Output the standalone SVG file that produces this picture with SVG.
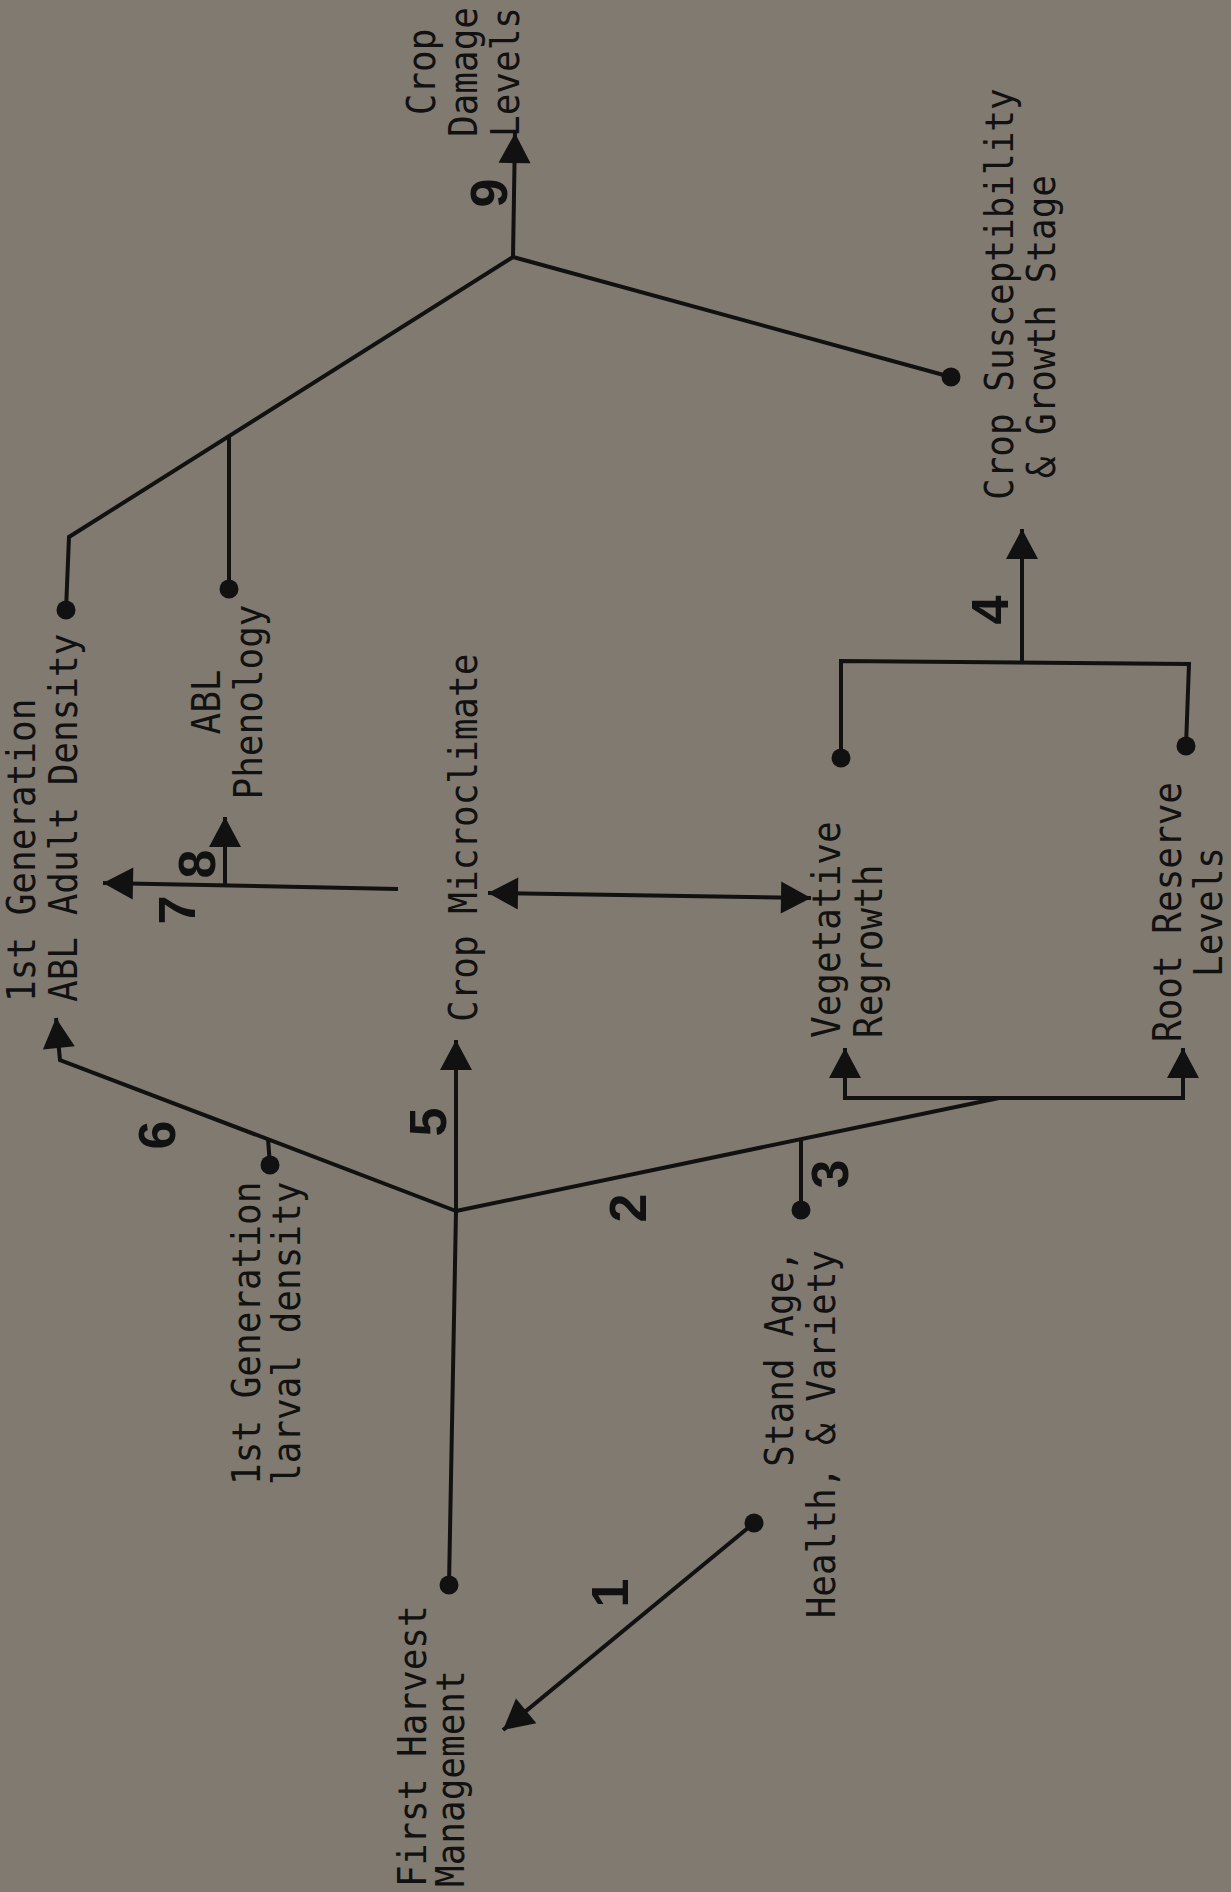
<svg xmlns="http://www.w3.org/2000/svg" width="1231" height="1892" viewBox="0 0 1231 1892">
<style>
.lbl{font-family:"DejaVu Sans Mono","Liberation Mono",monospace;font-size:36px;fill:#111}
.num{font-family:"Liberation Sans",Arial,sans-serif;font-weight:bold;font-size:52px;fill:#111;text-anchor:middle;dominant-baseline:central}
.ln{stroke:#111;stroke-width:4;fill:none;stroke-linejoin:miter}
.dot{fill:#111}
</style>
<defs>
<marker id="ah" markerUnits="userSpaceOnUse" markerWidth="34" markerHeight="34" viewBox="0 0 34 34" refX="31" refY="17" orient="auto-start-reverse">
<path d="M1,1 L31,17 L1,33 Z" fill="#111"/>
</marker>
</defs>
<rect width="1231" height="1892" fill="#807a70"/>

<g id="connectors">
<!-- 1 -->
<line class="ln" x1="754" y1="1523" x2="503" y2="1730" marker-end="url(#ah)"/>
<circle class="dot" cx="754" cy="1523" r="9.5"/>
<!-- First harvest to crop microclimate (5) -->
<polyline class="ln" points="449,1585 456,1211 456,1040" marker-end="url(#ah)"/>
<circle class="dot" cx="449" cy="1585" r="9.5"/>
<!-- 6 -->
<polyline class="ln" points="456,1211 60,1060 56,1018" marker-end="url(#ah)"/>
<line class="ln" x1="268" y1="1139" x2="270" y2="1165"/>
<circle class="dot" cx="270" cy="1165" r="9.5"/>
<!-- 2 -->
<line class="ln" x1="456" y1="1211" x2="999" y2="1098"/>
<line class="ln" x1="801" y1="1139" x2="801" y2="1210"/>
<circle class="dot" cx="801" cy="1210" r="9.5"/>
<polyline class="ln" points="999,1098 845,1098 845,1048" marker-end="url(#ah)"/>
<polyline class="ln" points="999,1098 1183,1098 1183,1048" marker-end="url(#ah)"/>
<!-- 4 -->
<polyline class="ln" points="841,758 841,661 1189,664 1186,746"/>
<circle class="dot" cx="841" cy="758" r="9.5"/>
<circle class="dot" cx="1186" cy="746" r="9.5"/>
<line class="ln" x1="1022" y1="662" x2="1022" y2="529" marker-end="url(#ah)"/>
<!-- double arrow -->
<line class="ln" x1="488" y1="893" x2="811" y2="898" marker-start="url(#ah)" marker-end="url(#ah)"/>
<!-- 7 and 8 -->
<line class="ln" x1="398" y1="889" x2="103" y2="883" marker-end="url(#ah)"/>
<line class="ln" x1="225" y1="886" x2="225" y2="817" marker-end="url(#ah)"/>
<!-- 9 -->
<polyline class="ln" points="66,610 69,537 513,257"/>
<circle class="dot" cx="66" cy="610" r="9.5"/>
<line class="ln" x1="229" y1="435" x2="229" y2="589"/>
<circle class="dot" cx="229" cy="589" r="9.5"/>
<line class="ln" x1="513" y1="257" x2="951" y2="377"/>
<circle class="dot" cx="951" cy="377" r="9.5"/>
<line class="ln" x1="513" y1="257" x2="515" y2="133" marker-end="url(#ah)"/>
</g>

<g id="node-crop-damage"><text class="lbl" text-anchor="middle" transform="translate(435,72) rotate(-90) scale(1,1.08)"><tspan x="0" y="0">Crop</tspan><tspan x="0" dy="39">Damage</tspan><tspan x="0" dy="39">Levels</tspan></text></g>
<g id="node-crop-susceptibility"><text class="lbl" transform="translate(1013,500) rotate(-90) scale(1,1.08)"><tspan x="0" y="0">Crop Susceptibility</tspan><tspan x="21.7" dy="39">&amp; Growth Stage</tspan></text></g>
<g id="node-vegetative"><text class="lbl" transform="translate(840,1038) rotate(-90) scale(1,1.08)"><tspan x="0" y="0">Vegetative</tspan><tspan x="0" dy="39">Regrowth</tspan></text></g>
<g id="node-root-reserve"><text class="lbl" text-anchor="middle" transform="translate(1181,912) rotate(-90) scale(1,1.08)"><tspan x="0" y="0">Root Reserve</tspan><tspan x="0" dy="38">Levels</tspan></text></g>
<g id="node-crop-microclimate"><text class="lbl" transform="translate(477,1022) rotate(-90) scale(1,1.08)">Crop Microclimate</text></g>
<g id="node-abl-phenology"><text class="lbl" text-anchor="middle" transform="translate(220,702) rotate(-90) scale(1,1.08)"><tspan x="0" y="0">ABL</tspan><tspan x="0" dy="39">Phenology</tspan></text></g>
<g id="node-adult-density"><text class="lbl" transform="translate(35,1002) rotate(-90) scale(1,1.08)"><tspan x="0" y="0">1st Generation</tspan><tspan x="0" dy="39">ABL Adult Density</tspan></text></g>
<g id="node-larval-density"><text class="lbl" transform="translate(260,1485) rotate(-90) scale(1,1.08)"><tspan x="0" y="0">1st Generation</tspan><tspan x="0" dy="37">larval density</tspan></text></g>
<g id="node-stand-age"><text class="lbl" text-anchor="end" transform="translate(793,1250) rotate(-90) scale(1,1.08)"><tspan x="0" y="0">Stand Age,</tspan><tspan x="0" dy="39">Health, &amp; Variety</tspan></text></g>
<g id="node-first-harvest"><text class="lbl" transform="translate(426,1887) rotate(-90) scale(1,1.08)"><tspan x="0" y="0">First Harvest</tspan><tspan x="0" dy="35">Management</tspan></text></g>

<g id="numbers">
<text class="num" transform="translate(489,193) rotate(-90)">9</text>
<text class="num" transform="translate(990,610) rotate(-90)">4</text>
<text class="num" transform="translate(177,910) rotate(-90)">7</text>
<text class="num" transform="translate(197,864) rotate(-90)">8</text>
<text class="num" transform="translate(157,1135) rotate(-90)">6</text>
<text class="num" transform="translate(428,1122) rotate(-90)">5</text>
<text class="num" transform="translate(628,1208) rotate(-90)">2</text>
<text class="num" transform="translate(830,1174) rotate(-90)">3</text>
<text class="num" transform="translate(610,1593) rotate(-90)">1</text>
</g>
</svg>
